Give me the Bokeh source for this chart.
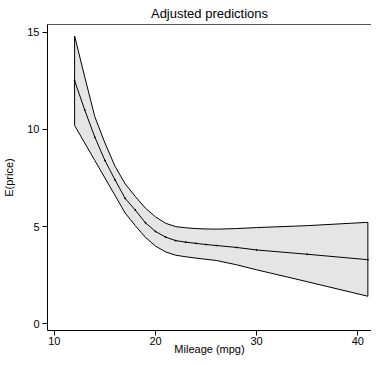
from bokeh.plotting import figure
from bokeh.models import LinearAxis, FixedTicker, Range1d
from bokeh.embed import file_html
from bokeh.resources import INLINE

# Data
mpg = [12, 13, 14, 15, 16, 17, 18, 19, 20, 21, 22, 23, 24, 25, 26, 28, 30, 35, 41]
pred = [12.5, 11.0, 9.6, 8.4, 7.4, 6.45, 5.85, 5.2, 4.75, 4.46, 4.28, 4.2, 4.14, 4.08, 4.03, 3.93, 3.8, 3.58, 3.3]
upper = [14.8, 12.7, 10.65, 9.3, 8.1, 7.2, 6.55, 5.95, 5.5, 5.17, 5.0, 4.94, 4.9, 4.88, 4.87, 4.9, 4.95, 5.05, 5.22]
lower = [10.2, 9.3, 8.4, 7.5, 6.6, 5.7, 5.05, 4.45, 4.0, 3.7, 3.53, 3.45, 3.38, 3.32, 3.26, 3.04, 2.78, 2.17, 1.42]
x_ticks = [10, 20, 30, 40]
y_ticks = [0, 5, 10, 15]

FONT = "Liberation Sans"

p = figure(width=371, height=357, output_backend="svg", toolbar_location=None,
           x_range=Range1d(9.32, 41.36), y_range=Range1d(-0.34, 15.39),
           min_border_left=40, min_border_right=0, min_border_top=0, min_border_bottom=0,
           title="Adjusted predictions")
p.outline_line_color = None
p.xgrid.visible = False
p.ygrid.visible = False
p.background_fill_color = "white"
p.border_fill_color = "white"

p.title.align = "center"
p.title.text_font = FONT
p.title.text_font_style = "normal"
p.title.text_font_size = "13px"
p.title.text_color = "#000000"
p.title.offset = 0
p.title.standoff = 7

# band
px = mpg + mpg[::-1]
py = upper + lower[::-1]
p.patch(px, py, fill_color="#e5e5e5", line_color="black", line_width=1)
p.line(mpg, pred, line_color="black", line_width=1)
p.scatter(mpg, pred, size=1, color="black")

for ax in (p.xaxis[0], p.yaxis[0]):
    ax.minor_tick_line_color = None
    ax.major_tick_out = 5
    ax.major_tick_in = 0
    ax.axis_line_color = "black"
    ax.major_tick_line_color = "black"
    ax.major_label_text_font = FONT
    ax.major_label_text_font_size = "11px"
    ax.major_label_text_color = "#000000"
    ax.axis_label_text_font = FONT
    ax.axis_label_text_font_size = "11px"
    ax.axis_label_text_font_style = "normal"
    ax.axis_label_text_color = "#000000"

p.xaxis[0].ticker = FixedTicker(ticks=x_ticks)
p.yaxis[0].ticker = FixedTicker(ticks=y_ticks)
p.xaxis[0].axis_label = "Mileage (mpg)"
p.yaxis[0].axis_label = "E(price)"
p.xaxis[0].major_label_standoff = 1
p.xaxis[0].axis_label_standoff = -5
p.yaxis[0].major_label_standoff = 3
p.yaxis[0].axis_label_standoff = 9
p.yaxis[0].major_label_orientation = "horizontal"

top = LinearAxis(ticker=FixedTicker(ticks=[]), major_label_text_font_size="0px",
                 major_tick_out=0, major_tick_in=0, minor_tick_line_color=None,
                 axis_line_color="#555555", major_label_standoff=0)
p.add_layout(top, "above")

open("out.html", "w").write(file_html(p, INLINE))
